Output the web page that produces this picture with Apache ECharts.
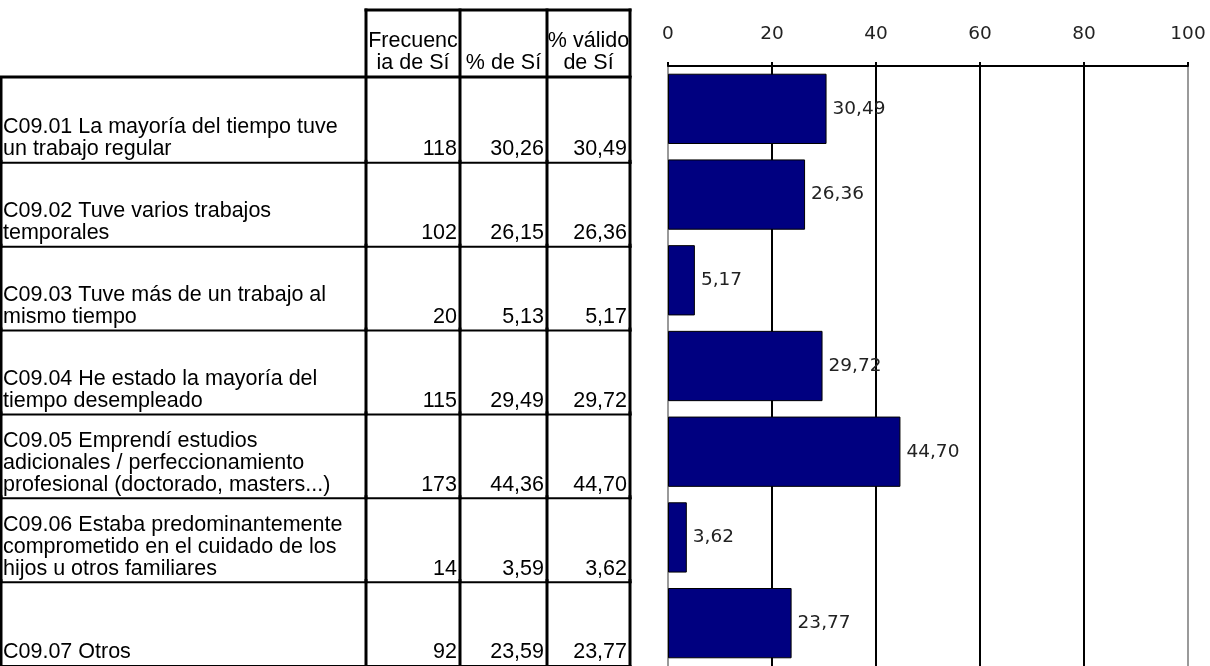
<!DOCTYPE html>
<html>
<head>
<meta charset="utf-8">
<script src="https://cdn.jsdelivr.net/npm/echarts@6/dist/echarts.min.js"></script>
<style>
html,body{margin:0;padding:0;background:#fff;}
#chart{width:1210px;height:666px;}
</style>
</head>
<body>
<div id="chart"></div>
<script>
// ---- data ----
const categories = [
  'C09.01 La mayoría del tiempo tuve\nun trabajo regular',
  'C09.02 Tuve varios trabajos\ntemporales',
  'C09.03 Tuve más de un trabajo al\nmismo tiempo',
  'C09.04 He estado la mayoría del\ntiempo desempleado',
  'C09.05 Emprendí estudios\nadicionales / perfeccionamiento\nprofesional (doctorado, masters...)',
  'C09.06 Estaba predominantemente\ncomprometido en el cuidado de los\nhijos u otros familiares',
  'C09.07 Otros'
];
const frecuencia = [118, 102, 20, 115, 173, 14, 92];
const pctSi = [30.26, 26.15, 5.13, 29.49, 44.36, 3.59, 23.59];
const pctValido = [30.49, 26.36, 5.17, 29.72, 44.70, 3.62, 23.77];
const headers = ['Frecuenc\nia de Sí', '% de Sí', '% válido\nde Sí'];

// ---- layout / style ----
const TABLE_FONT = '21.5px "Liberation Sans", Arial, sans-serif';
const CHART_FONT_FAMILY = '"DejaVu Sans", Verdana, sans-serif';
const COLS = [366, 460, 547, 630];   // column boundaries (px from table left)
const HEADER_TOP = 10, HEADER_BOTTOM = 77;

function fmt(v) { return v.toFixed(2).replace('.', ','); }

function renderRow(params, api) {
  const i = params.dataIndex;
  const cs = params.coordSys;
  const c = api.coord([0, i]);
  const h = api.size([0, 1])[1];
  const top = c[1] - h / 2, bot = c[1] + h / 2;
  const x0 = cs.x;
  const kids = [];
  kids.push({type: 'line', shape: {x1: x0, y1: bot, x2: x0 + COLS[3] + 1.5, y2: bot},
             style: {stroke: '#000', lineWidth: 2}});
  [1].concat(COLS).forEach(function (x) {
    kids.push({type: 'line', shape: {x1: x0 + x, y1: top - 3, x2: x0 + x, y2: bot + 1},
               style: {stroke: '#000', lineWidth: 3}});
  });
  const ty = bot - 2.5;
  kids.push({type: 'text', style: {text: categories[i], x: x0 + 3, y: ty, align: 'left',
             verticalAlign: 'bottom', font: TABLE_FONT, lineHeight: 22, fill: '#000'}});
  const vals = [String(frecuencia[i]), fmt(pctSi[i]), fmt(pctValido[i])];
  vals.forEach(function (t, k) {
    kids.push({type: 'text', style: {text: t, x: x0 + COLS[k + 1] - 3, y: ty, align: 'right',
               verticalAlign: 'bottom', font: TABLE_FONT, lineHeight: 22, fill: '#000'}});
  });
  return {type: 'group', children: kids};
}

const headerGraphics = [];
headerGraphics.push({type: 'line', shape: {x1: COLS[0] - 1.5, y1: HEADER_TOP, x2: COLS[3] + 1.5, y2: HEADER_TOP},
                     style: {stroke: '#000', lineWidth: 3}});
headerGraphics.push({type: 'line', shape: {x1: 0, y1: HEADER_BOTTOM, x2: COLS[3] + 1.5, y2: HEADER_BOTTOM},
                     style: {stroke: '#000', lineWidth: 3}});
COLS.forEach(function (x) {
  headerGraphics.push({type: 'line', shape: {x1: x, y1: HEADER_TOP - 1.5, x2: x, y2: HEADER_BOTTOM},
                       style: {stroke: '#000', lineWidth: 3}});
});
headers.forEach(function (t, k) {
  headerGraphics.push({type: 'text', x: (COLS[k] + COLS[k + 1]) / 2, y: HEADER_BOTTOM - 2.5,
    style: {text: t, align: 'center', verticalAlign: 'bottom', font: TABLE_FONT, lineHeight: 22, fill: '#000'}});
});

const chart = echarts.init(document.getElementById('chart'), null, {renderer: 'canvas'});
chart.setOption({
  animation: false,
  backgroundColor: '#fff',
  graphic: headerGraphics,
  grid: [
    {left: 0, top: 79, width: 630, height: 589, containLabel: false},
    {left: 668, top: 66, width: 520, height: 605.5, containLabel: false}
  ],
  xAxis: [
    {gridIndex: 0, type: 'value', min: 0, max: 1, show: false},
    {gridIndex: 1, type: 'value', position: 'top', min: 0, max: 100, interval: 20,
     axisLine: {show: true, lineStyle: {color: '#000', width: 2}},
     axisTick: {show: true, inside: false, length: 4, lineStyle: {color: '#000', width: 2}},
     axisLabel: {margin: 22, color: '#222', fontFamily: CHART_FONT_FAMILY, fontSize: 18.5},
     splitLine: {show: true, lineStyle: {color: ['#9a9a9a', '#000', '#000', '#000', '#000', '#9a9a9a'], width: 2}}
    }
  ],
  yAxis: [
    {gridIndex: 0, type: 'category', inverse: true, data: categories, show: false},
    {gridIndex: 1, type: 'category', inverse: true, data: categories,
     axisLine: {show: false}, axisTick: {show: false}, axisLabel: {show: false}, splitLine: {show: false}}
  ],
  series: [
    {type: 'custom', xAxisIndex: 0, yAxisIndex: 0, clip: false,
     data: categories.map(function (_, i) { return [0, i]; }),
     encode: {x: 0, y: 1},
     renderItem: renderRow},
    {type: 'bar', xAxisIndex: 1, yAxisIndex: 1, data: pctValido, barCategoryGap: '18%',
     itemStyle: {color: '#000080', borderColor: '#000', borderWidth: 1},
     label: {show: true, position: 'right', distance: 6, color: '#222',
             fontFamily: CHART_FONT_FAMILY, fontSize: 18.5,
             formatter: function (p) { return fmt(p.value); }}}
  ]
});
</script>
</body>
</html>
